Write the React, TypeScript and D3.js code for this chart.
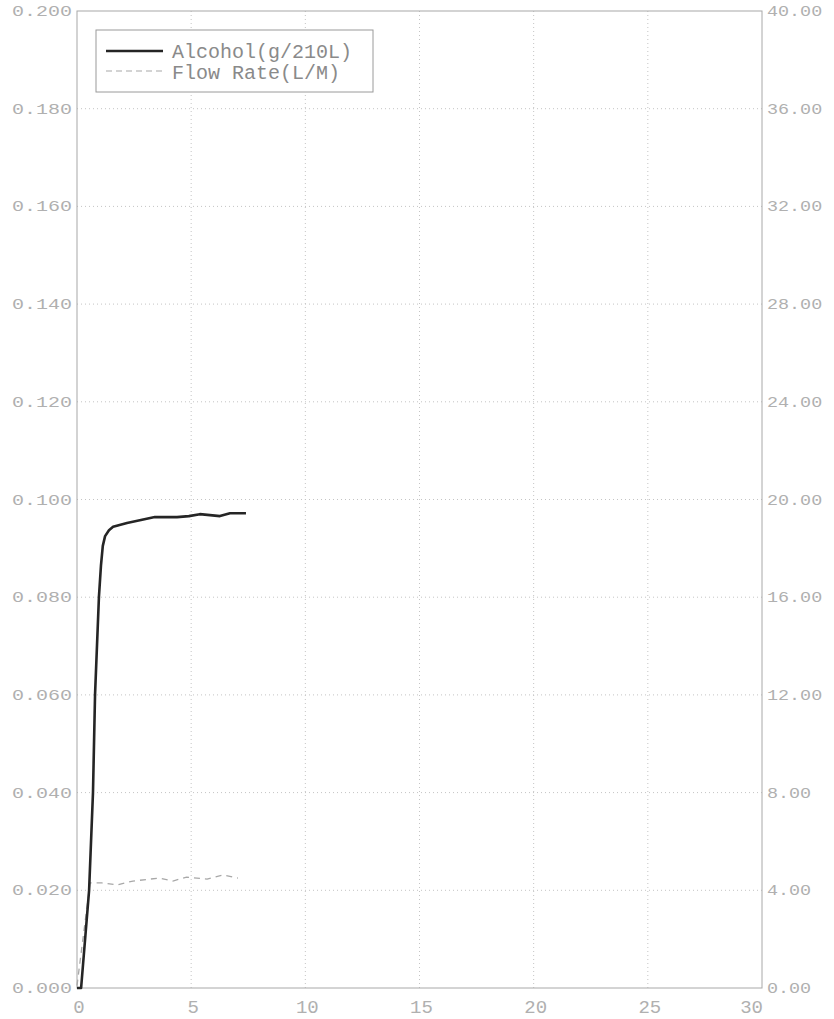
import React from "react";
import * as d3 from "d3";

const alcoholTime = [0, 0.18, 0.53, 0.7, 0.79, 0.96, 1.05, 1.13, 1.23, 1.4, 1.58, 2.19, 2.8, 3.41, 4.38, 4.9, 5.38, 6.26, 6.7, 7.4];
const alcoholValue = [0, 0, 0.02, 0.04, 0.06, 0.08, 0.0865, 0.0905, 0.0925, 0.0937, 0.0944, 0.0952, 0.0958, 0.0964, 0.0964, 0.0966, 0.097, 0.0966, 0.0972, 0.0972];

const flowTime = [0, 0.15, 0.57, 1.1, 1.75, 2.45, 3.6, 4.2, 4.8, 5.7, 6.4, 7.05];
const flowValue = [0.1, 1.2, 4.3, 4.3, 4.22, 4.38, 4.5, 4.38, 4.54, 4.46, 4.63, 4.5];

const xTicks = [0, 5, 10, 15, 20, 25, 30];
const leftTicks = [0, 0.02, 0.04, 0.06, 0.08, 0.1, 0.12, 0.14, 0.16, 0.18, 0.2];
const rightTicks = [0, 4, 8, 12, 16, 20, 24, 28, 32, 36, 40];
const legendLabels = ["Alcohol(g/210L)", "Flow Rate(L/M)"];

const W = 834;
const H = 1019;
const L = 77, R = 762, T = 11, B = 988;
const FONT = "'Liberation Mono', 'DejaVu Sans Mono', monospace";

export default function App() {
  const x = d3.scaleLinear().domain([0, 30]).range([L, R]);
  const yL = d3.scaleLinear().domain([0, 0.2]).range([B, T]);
  const yR = d3.scaleLinear().domain([0, 40]).range([B, T]);

  const alcLine = d3.line<number>().x((_, i) => x(alcoholTime[i])).y((v) => yL(v));
  const flowLine = d3.line<number>().x((_, i) => x(flowTime[i])).y((v) => yR(v));

  return (
    <svg width={W} height={H} style={{ position: "absolute", left: 0, top: 0, background: "#fff" }}>
      <rect x={0} y={0} width={W} height={H} fill="#fff" />
      {xTicks.slice(1, -1).map((t) => (
        <line key={"gx" + t} x1={x(t)} x2={x(t)} y1={T} y2={B} stroke="#c4c4c4" strokeWidth={1} strokeDasharray="1,3" />
      ))}
      {leftTicks.slice(1, -1).map((t) => (
        <line key={"gy" + t} x1={L} x2={R} y1={yL(t)} y2={yL(t)} stroke="#c4c4c4" strokeWidth={1} strokeDasharray="1,3" />
      ))}
      <rect x={L} y={T} width={R - L} height={B - T} fill="none" stroke="#a8a8a8" strokeWidth={1} />
      {leftTicks.map((t) => (
        <text key={"l" + t} transform={`translate(72,${yL(t) + 5}) scale(1,0.72)`} textAnchor="end"
          fontFamily={FONT} fontSize={20} fill="#b0b0b0">{t.toFixed(3)}</text>
      ))}
      {rightTicks.map((t) => (
        <text key={"r" + t} transform={`translate(767,${yR(t) + 5}) scale(0.92,0.72)`} textAnchor="start"
          fontFamily={FONT} fontSize={20} fill="#b0b0b0">{t.toFixed(2)}</text>
      ))}
      {xTicks.map((t, i) => (
        <text key={"x" + t} x={i === xTicks.length - 1 ? x(t) + 1 : x(t) + 2} y={1013}
          textAnchor={i === xTicks.length - 1 ? "end" : "middle"}
          fontFamily={FONT} fontSize={19} fill="#b0b0b0">{t}</text>
      ))}
      <path d={flowLine(flowValue) || ""} fill="none" stroke="#a8a8a8" strokeWidth={1.3} strokeDasharray="6,5" />
      <path d={alcLine(alcoholValue) || ""} fill="none" stroke="#252525" strokeWidth={2.6} strokeLinejoin="round" />
      <rect x={96} y={30} width={277} height={62} fill="#fff" stroke="#9a9a9a" strokeWidth={1} />
      <line x1={106} x2={163} y1={51} y2={51} stroke="#252525" strokeWidth={2.6} />
      <line x1={106} x2={163} y1={71} y2={71} stroke="#a8a8a8" strokeWidth={1.2} strokeDasharray="6,4" />
      <text x={172} y={58} fontFamily={FONT} fontSize={20} fill="#8a8a8a">{legendLabels[0]}</text>
      <text x={172} y={79} fontFamily={FONT} fontSize={20} fill="#8a8a8a">{legendLabels[1]}</text>
    </svg>
  );
}
